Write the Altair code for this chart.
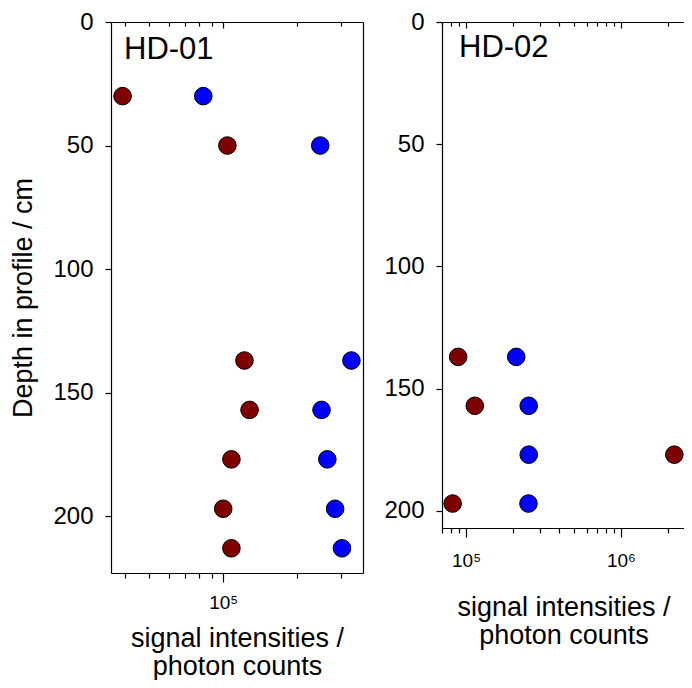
import altair as alt
import pandas as pd

# ---- data ----
hd01_depth = [30, 50, 137, 157, 177, 197, 213]
hd01_red = [3.9e4, 1.04e5, 1.22e5, 1.28e5, 1.08e5, 1.0e5, 1.08e5]
hd01_blue = [8.3e4, 2.48e5, 3.32e5, 2.51e5, 2.65e5, 2.85e5, 3.04e5]

hd02_depth = [137, 157, 177, 197]
hd02_red = [8.9e4, 1.14e5, 2.21e6, 8.2e4]
hd02_blue = [2.11e5, 2.54e5, 2.54e5, 2.53e5]

series_names = ["signal 1", "signal 2"]
series_colors = ["#7f0000", "#0000ff"]

panel_names = ["HD-01", "HD-02"]
y_ticks = [0, 50, 100, 150, 200]

hd01_major = [1e5]
hd01_major_labels = ["10⁵"]
hd01_minor = [4e4, 5e4, 6e4, 7e4, 8e4, 9e4, 2e5, 3e5]

hd02_major = [1e5, 1e6]
hd02_major_labels = ["10⁵", "10⁶"]
hd02_minor = [7e4, 8e4, 9e4, 2e5, 3e5, 4e5, 5e5, 6e5, 7e5, 8e5, 9e5, 2e6]

x_title = ["signal intensities /", "photon counts"]
y_title = "Depth in profile / cm"

FONT = "Liberation Sans"


def make_df(depth, red, blue):
    rows = []
    for d, v in zip(depth, red):
        rows.append({"depth": d, "value": v, "series": series_names[0]})
    for d, v in zip(depth, blue):
        rows.append({"depth": d, "value": v, "series": series_names[1]})
    return pd.DataFrame(rows)


def label_expr(vals, labels):
    expr = "''"
    for v, l in reversed(list(zip(vals, labels))):
        expr = f"abs(datum.value - {v}) < {v * 1e-6} ? '{l}' : ({expr})"
    return expr


def panel(df, name, xdom, ydom, w, h, major, major_labels, minor,
          show_ytitle, right_border, text_x, text_y, lab_pad, title_pad):
    xscale = alt.Scale(type="log", domain=xdom, nice=False)
    yscale = alt.Scale(domain=ydom, reverse=True, nice=False, zero=False)
    base = alt.Chart(df).properties(width=w, height=h)

    yaxis = alt.Axis(values=y_ticks, tickSize=6, labelPadding=12,
                     labelFontSize=24, titleFontSize=27,
                     title=y_title if show_ytitle else None,
                     titlePadding=15, grid=False, domainColor="black")

    pts = base.mark_circle(size=310, opacity=1, stroke="black", strokeWidth=1).encode(
        x=alt.X("value:Q", scale=xscale,
                axis=alt.Axis(orient="bottom", values=major,
                              labelExpr=label_expr(major, major_labels),
                              labelFontSize=19, titleFontSize=27,
                              tickSize=9, labelPadding=lab_pad, title=x_title,
                              titlePadding=title_pad, titleLineHeight=28, grid=False)),
        y=alt.Y("depth:Q", scale=yscale, axis=yaxis),
        color=alt.Color("series:N",
                        scale=alt.Scale(domain=series_names, range=series_colors),
                        legend=None),
    )
    minor_bottom = base.mark_point(opacity=0).encode(
        x=alt.X("value:Q", scale=xscale,
                axis=alt.Axis(orient="bottom", values=minor, labels=False,
                              tickSize=5, domain=False, title=None, grid=False)),
        y=alt.Y("depth:Q", scale=yscale, axis=None),
    )
    top_major = base.mark_point(opacity=0).encode(
        x=alt.X("value:Q", scale=xscale,
                axis=alt.Axis(orient="bottom", offset=-h, values=major, labels=False,
                              tickSize=6, domain=True, title=None, grid=False)),
        y=alt.Y("depth:Q", scale=yscale, axis=None),
    )
    top_minor = base.mark_point(opacity=0).encode(
        x=alt.X("value:Q", scale=xscale,
                axis=alt.Axis(orient="bottom", offset=-h, values=minor, labels=False,
                              tickSize=4, domain=False, title=None, grid=False)),
        y=alt.Y("depth:Q", scale=yscale, axis=None),
    )
    layers = [minor_bottom, top_major, top_minor]
    if right_border:
        border = base.mark_point(opacity=0).encode(
            x=alt.X("value:Q", scale=xscale, axis=None),
            y=alt.Y("depth:Q", scale=yscale,
                    axis=alt.Axis(orient="right", labels=False, ticks=False,
                                  domain=True, title=None, grid=False)),
        )
        layers.append(border)
    label = alt.Chart(pd.DataFrame({"name": [name]})).mark_text(
        align="left", baseline="alphabetic", fontSize=31, font=FONT, color="black"
    ).encode(text="name:N", x=alt.value(text_x), y=alt.value(text_y))
    layers += [pts, label]
    return alt.layer(*layers).resolve_axis(x="independent", y="independent")


p1 = panel(make_df(hd01_depth, hd01_red, hd01_blue), panel_names[0],
           [3.5e4, 3.7e5], [0, 223], 252, 551,
           hd01_major, hd01_major_labels, hd01_minor,
           True, True, 13, 37, 11, 13)
p2 = panel(make_df(hd02_depth, hd02_red, hd02_blue), panel_names[1],
           [7e4, 2.59e6], [0, 207], 243, 506,
           hd02_major, hd02_major_labels, hd02_minor,
           False, False, 17, 35, 14, 24)

# fixed-size canvas (like the reference, the right panel runs to the window edge)
chart = alt.hconcat(p1, p2, spacing=20).properties(
    autosize=alt.AutoSizeParams(type="none"),
    padding={"left": 103, "top": 14, "right": 573, "bottom": 658},
).configure_view(stroke=None).configure_axis(
    labelFont=FONT, titleFont=FONT,
    labelColor="black", titleColor="black", titleFontWeight="normal",
    domainColor="black", tickColor="black", domainWidth=1.2, tickWidth=1.2,
).configure_concat(spacing=20)

chart.save("out.html", embed_options={"renderer": "svg", "actions": False})
